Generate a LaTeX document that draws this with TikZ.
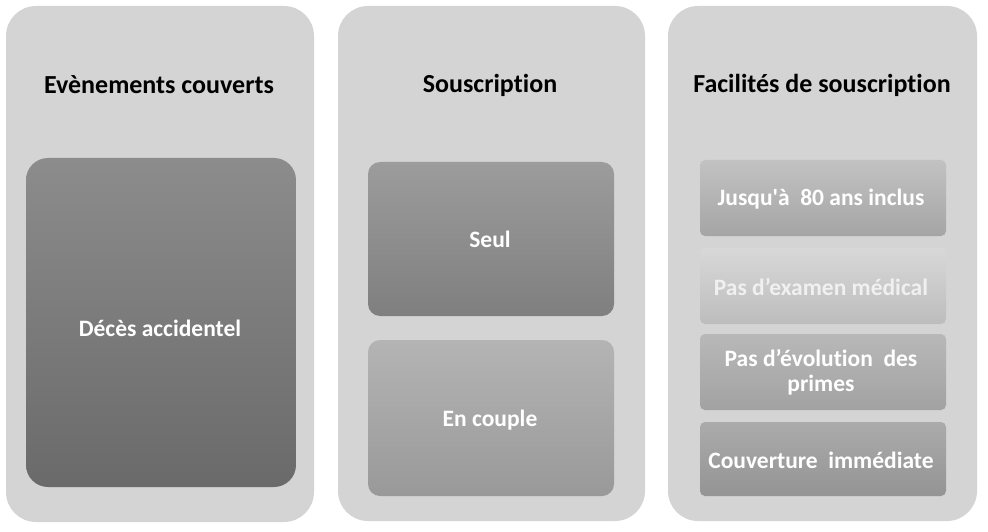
\documentclass[tikz,border=0pt]{standalone}
\usepackage{fontspec}
\setmainfont{Carlito}[Ligatures={TeXOff,CommonOff}]
\begin{document}
\begin{tikzpicture}[x=1pt,y=-1pt,
  panel/.style={fill=panelgray, rounded corners=30pt},
  ttl/.style={font=\bfseries\fontsize{26}{30}\selectfont, text=black},
  card/.style={rounded corners=#1, inner sep=0pt},
  cardtext/.style={text=white, font=\bfseries\fontsize{23.5}{26}\selectfont, align=center, inner sep=0pt},
]
\definecolor{panelgray}{HTML}{D4D4D4}
\useasboundingbox (0,0) rectangle (988,532);
\fill[white] (0,0) rectangle (988,532);
% panels
\path[panel] (6,6) rectangle (314,522);
\path[panel] (338,6) rectangle (645,521);
\path[panel] (668,6) rectangle (977,521);
% titles
\node[ttl] (t1) at (159,85) {Evènements couverts};
\node[ttl] (t2) at (490,85) {Souscription};
\node[ttl] (t3) at (822,85) {Facilités de souscription};
% column 1
\node[card=22pt, top color={rgb,255:red,140;green,140;blue,140}, bottom color={rgb,255:red,106;green,106;blue,106},
  minimum width=270pt, minimum height=329pt] (d) at (161,322.5) {};
\node[cardtext] (dt) at (160,328) {Décès accidentel};
% column 2
\node[card=12pt, top color={rgb,255:red,156;green,156;blue,156}, bottom color={rgb,255:red,127;green,127;blue,127},
  minimum width=246pt, minimum height=154pt] (s) at (491,239) {};
\node[cardtext] (st) at (490,239) {Seul};
\node[card=12pt, top color={rgb,255:red,180;green,180;blue,180}, bottom color={rgb,255:red,153;green,153;blue,153},
  minimum width=246pt, minimum height=156pt] (c) at (491,418) {};
\node[cardtext] (ct) at (490,420) {En couple};
% column 3
\node[card=5pt, top color={rgb,255:red,194;green,194;blue,194}, bottom color={rgb,255:red,165;green,165;blue,165},
  minimum width=246pt, minimum height=76pt] (f1) at (823,198) {};
\node[cardtext] (f1t) at (821,199) {Jusqu'à\hspace{0.45em}80 ans inclus};
\node[card=5pt, top color={rgb,255:red,216;green,216;blue,216}, bottom color={rgb,255:red,189;green,189;blue,189},
  minimum width=246pt, minimum height=76pt] (f2) at (823,286) {};
\node[cardtext, text={rgb,255:red,240;green,240;blue,240}] (f2t) at (821,287) {Pas d’examen médical};
\node[card=5pt, top color={rgb,255:red,184;green,184;blue,184}, bottom color={rgb,255:red,162;green,162;blue,162},
  minimum width=246pt, minimum height=76pt] (f3) at (823,372) {};
\node[cardtext] (f3t) at (821,372) {Pas d’évolution\hspace{0.45em}des\\[-1pt]primes};
\node[card=5pt, top color={rgb,255:red,171;green,171;blue,171}, bottom color={rgb,255:red,148;green,148;blue,148},
  minimum width=246pt, minimum height=74pt] (f4) at (823,459) {};
\node[cardtext] (f4t) at (821,460) {Couverture\hspace{0.45em}immédiate};
\end{tikzpicture}
\end{document}
